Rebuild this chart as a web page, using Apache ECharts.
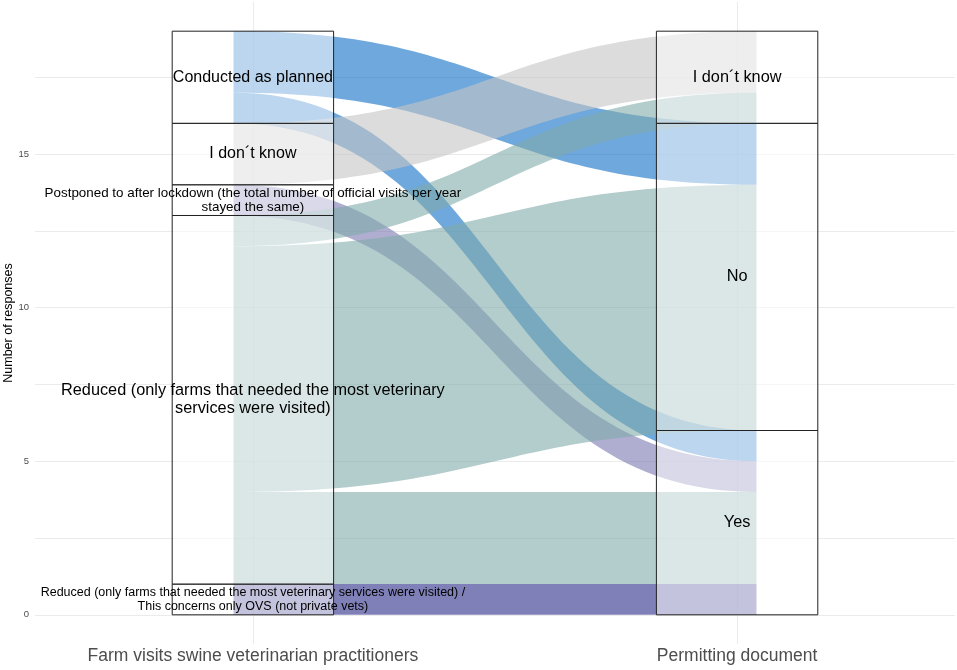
<!DOCTYPE html>
<html style="height: 100%">
<head>
    <meta charset="utf-8">
    <title>Farm visits / permitting document</title>
    <script type="text/javascript" src="https://cdn.jsdelivr.net/npm/echarts@6/dist/echarts.min.js"></script>
</head>
<body style="width: 100%;margin: 0;height: 100%">
<div id="container" style="width: 957px;height: 670px"></div>

<script type="application/javascript">

    // axis (category) names
    var axisNames = ['Farm visits swine veterinarian practitioners', 'Permitting document'];

    // strata, listed from the bottom of the stack to the top
    var leftStrata = [
        'Reduced (only farms that needed the most veterinary services were visited) /\nThis concerns only OVS (not private vets)',
        'Reduced (only farms that needed the most veterinary\nservices were visited)',
        'Postponed to after lockdown (the total number of official visits per year\nstayed the same)',
        'I don\u00b4t know',
        'Conducted as planned'
    ];
    var rightStrata = ['Yes', 'No', 'I don\u00b4t know'];

    // flows: index into leftStrata, index into rightStrata, number of responses
    // (listed in drawing order)
    var flowFrom  = [4, 4, 2, 3, 1, 1, 1, 0];
    var flowTo    = [0, 1, 0, 2, 0, 1, 2, 0];
    var flowCount = [1, 2, 1, 2, 3, 8, 1, 1];

    var yTickLabels = [0, 5, 10, 15];

    // styles
    var leftColors = ['#2b2b89', '#80aaaa', '#7b78b1', '#c5c5c5', '#0f6ec5'];
    var leftFontSize = [12.5, 16.3, 13.4, 16, 16];
    var leftLineHeight = [14, 18, 14, 18, 18];
    var FLOW_X0 = 0.96, FLOW_X1 = 2.04, HALF_W = 1 / 6;

    // stack the strata and the lodes
    function totals(n, idx) {
        var t = [];
        for (var i = 0; i < n; i++) t.push(0);
        for (var k = 0; k < flowCount.length; k++) t[idx[k]] += flowCount[k];
        return t;
    }
    var leftTot = totals(leftStrata.length, flowFrom);
    var rightTot = totals(rightStrata.length, flowTo);

    function bases(tot) {
        var b = [], s = 0;
        for (var i = 0; i < tot.length; i++) { b.push(s); s += tot[i]; }
        return b;
    }
    var leftBase = bases(leftTot);
    var rightBase = bases(rightTot);

    var flowL = [], flowR = [];
    function stackLodes(base, own, other, out) {
        for (var i = 0; i < base.length; i++) {
            var ks = [];
            for (var k = 0; k < flowCount.length; k++) if (own[k] === i) ks.push(k);
            ks.sort(function (a, b) { return other[a] - other[b]; });
            var y = base[i];
            ks.forEach(function (k) { out[k] = [y, y + flowCount[k]]; y += flowCount[k]; });
        }
    }
    stackLodes(leftBase, flowFrom, flowTo, flowL);
    stackLodes(rightBase, flowTo, flowFrom, flowR);

    var strata = [];
    leftStrata.forEach(function (name, i) {
        strata.push({x: 1, lo: leftBase[i], hi: leftBase[i] + leftTot[i], name: name,
            fs: leftFontSize[i], lh: leftLineHeight[i]});
    });
    rightStrata.forEach(function (name, j) {
        strata.push({x: 2, lo: rightBase[j], hi: rightBase[j] + rightTot[j], name: name, fs: 16.3, lh: 18});
    });

    var dom = document.getElementById("container");
    var myChart = echarts.init(dom);

    var gridTicks = [];
    for (var g = 0; g < 20; g += 2.5) gridTicks.push(g);

    var option = {
        animation: false,
        backgroundColor: '#ffffff',
        textStyle: {fontFamily: 'Liberation Sans, Arial, sans-serif'},
        grid: {left: 35, right: 2, top: 2, bottom: 26, containLabel: false, outerBoundsMode: 'none'},
        xAxis: {
            type: 'value',
            min: 0.55,
            max: 2.45,
            axisLine: {show: false},
            axisTick: {show: false, customValues: [1, 2]},
            axisLabel: {
                customValues: [1, 2],
                formatter: function (v) { return axisNames[Math.round(v) - 1]; },
                fontSize: 17.5,
                color: '#4d4d4d',
                margin: 3
            },
            splitLine: {show: true, lineStyle: {color: '#ebebeb', width: 1}}
        },
        yAxis: {
            type: 'value',
            min: -0.95,
            max: 19.95,
            name: 'Number of responses',
            nameLocation: 'middle',
            nameGap: 20,
            nameMoveOverlap: false,
            nameTextStyle: {fontSize: 12.5, color: '#000'},
            axisLine: {show: false},
            axisTick: {show: false, customValues: gridTicks},
            axisLabel: {customValues: yTickLabels, fontSize: 9.5, color: '#4d4d4d', margin: 6},
            splitLine: {show: true, lineStyle: {color: '#ebebeb', width: 1}}
        },
        series: [
            {
                type: 'custom',
                name: 'flows',
                silent: true,
                data: flowCount.map(function (c, k) { return [k, c]; }),
                encode: {x: -1, y: -1},
                renderItem: function (params, api) {
                    var k = params.dataIndex;
                    var L = flowL[k], R = flowR[k];
                    var top = [], bot = [];
                    var n = 60;
                    for (var s = 0; s <= n; s++) {
                        var t = s / n;
                        var fx = 1.5 * t - 1.5 * t * t + t * t * t;
                        var fy = 3 * t * t - 2 * t * t * t;
                        var x = FLOW_X0 + (FLOW_X1 - FLOW_X0) * fx;
                        top.push(api.coord([x, L[1] + (R[1] - L[1]) * fy]));
                        bot.unshift(api.coord([x, L[0] + (R[0] - L[0]) * fy]));
                    }
                    return {
                        type: 'polygon',
                        shape: {points: top.concat(bot)},
                        style: {fill: leftColors[flowFrom[k]], opacity: 0.6}
                    };
                }
            },
            {
                type: 'custom',
                name: 'strata',
                silent: true,
                data: strata.map(function (s, i) { return [i]; }),
                encode: {x: -1, y: -1},
                renderItem: function (params, api) {
                    var s = strata[params.dataIndex];
                    var p0 = api.coord([s.x - HALF_W, s.hi]);
                    var p1 = api.coord([s.x + HALF_W, s.lo]);
                    return {
                        type: 'rect',
                        shape: {x: p0[0], y: p0[1], width: p1[0] - p0[0], height: p1[1] - p0[1]},
                        style: {fill: 'rgba(255,255,255,0.53)', stroke: '#222', lineWidth: 1}
                    };
                }
            },
            {
                type: 'custom',
                name: 'labels',
                silent: true,
                data: strata.map(function (s, i) { return [i]; }),
                encode: {x: -1, y: -1},
                renderItem: function (params, api) {
                    var s = strata[params.dataIndex];
                    var p = api.coord([s.x, (s.lo + s.hi) / 2]);
                    return {
                        type: 'text',
                        style: {
                            text: s.name, x: p[0], y: p[1],
                            align: 'center', verticalAlign: 'middle',
                            fontSize: s.fs, lineHeight: s.lh,
                            fontFamily: 'Liberation Sans, Arial, sans-serif',
                            fill: '#000'
                        }
                    };
                }
            }
        ]
    };

    myChart.setOption(option);
</script>
</body>
</html>
